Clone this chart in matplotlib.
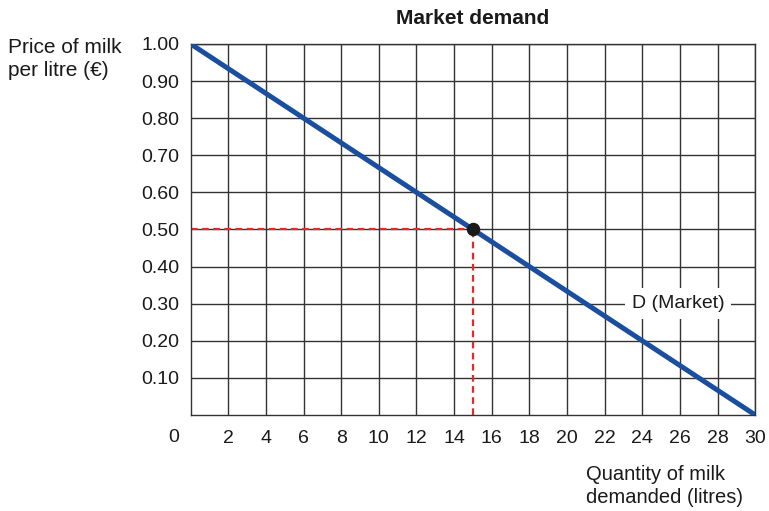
"""
Market demand for milk - linear demand curve
"""

import matplotlib
matplotlib.use("Agg")
import matplotlib.pyplot as plt

# Data
quantity = [0, 30]
price = [1.00, 0.00]
point_q = 15
point_p = 0.50
x_ticks = list(range(2, 32, 2))
y_ticks = [0.10, 0.20, 0.30, 0.40, 0.50, 0.60, 0.70, 0.80, 0.90, 1.00]
y_tick_labels = ["0.10", "0.20", "0.30", "0.40", "0.50", "0.60", "0.70", "0.80", "0.90", "1.00"]

plt.rcParams['font.family'] = ['Liberation Sans', 'DejaVu Sans']

fig = plt.figure(figsize=(7.69, 5.11), dpi=100)
ax = fig.add_axes([0.248, 0.188, 0.734, 0.726])

# Grid
for x in x_ticks:
    ax.axvline(x, color='#333333', linewidth=1.0, zorder=1)
for y in y_ticks:
    ax.axhline(y, color='#333333', linewidth=1.0, zorder=1)

# Demand curve
ax.plot(quantity, price, color='#1a4f9f', linewidth=3.6, solid_capstyle='butt', zorder=3)

# Dashed guides to the point
ax.plot([0, point_q], [point_p, point_p], color='#e8262b', linestyle=(0, (3, 2)), linewidth=1.6, zorder=2)
ax.plot([point_q, point_q], [0, point_p], color='#e8262b', linestyle=(0, (3, 2)), linewidth=1.6, zorder=2)
ax.scatter([point_q], [point_p], s=75, color='#1a1a1a', zorder=4)

ax.text(25.9, 0.30, "D (Market)", fontsize=14, ha='center', va='center', zorder=5, color='#1a1a1a',
        bbox=dict(facecolor='white', edgecolor='none', pad=5))

ax.set_xlim(0, 30)
ax.set_ylim(0, 1.0)
ax.set_xticks(x_ticks)
ax.set_xticklabels([str(x) for x in x_ticks])
ax.set_yticks(y_ticks)
ax.set_yticklabels(y_tick_labels)
ax.tick_params(length=0, labelsize=14, colors='#1a1a1a')
ax.tick_params(axis='x', pad=11)
ax.tick_params(axis='y', pad=8)

for side in ['left', 'bottom', 'top', 'right']:
    ax.spines[side].set_color('#333333')
    ax.spines[side].set_linewidth(1.0)

fig.text(174 / 769, 1 - 437 / 511, "0", fontsize=14, ha='center', va='center', color='#1a1a1a')
fig.text(473 / 769, 1 - 18 / 511, "Market demand", fontsize=15, fontweight='bold', ha='center', va='center',
         color='#1a1a1a')
fig.text(8 / 769, 1 - 59 / 511, "Price of milk\nper litre (€)", fontsize=15, ha='left', va='center',
         linespacing=1.25, color='#1a1a1a')
fig.text(586 / 769, 1 - 486 / 511, "Quantity of milk\ndemanded (litres)", fontsize=14.5, ha='left', va='center',
         linespacing=1.25, color='#1a1a1a')

fig.savefig("out.png", dpi=100)
